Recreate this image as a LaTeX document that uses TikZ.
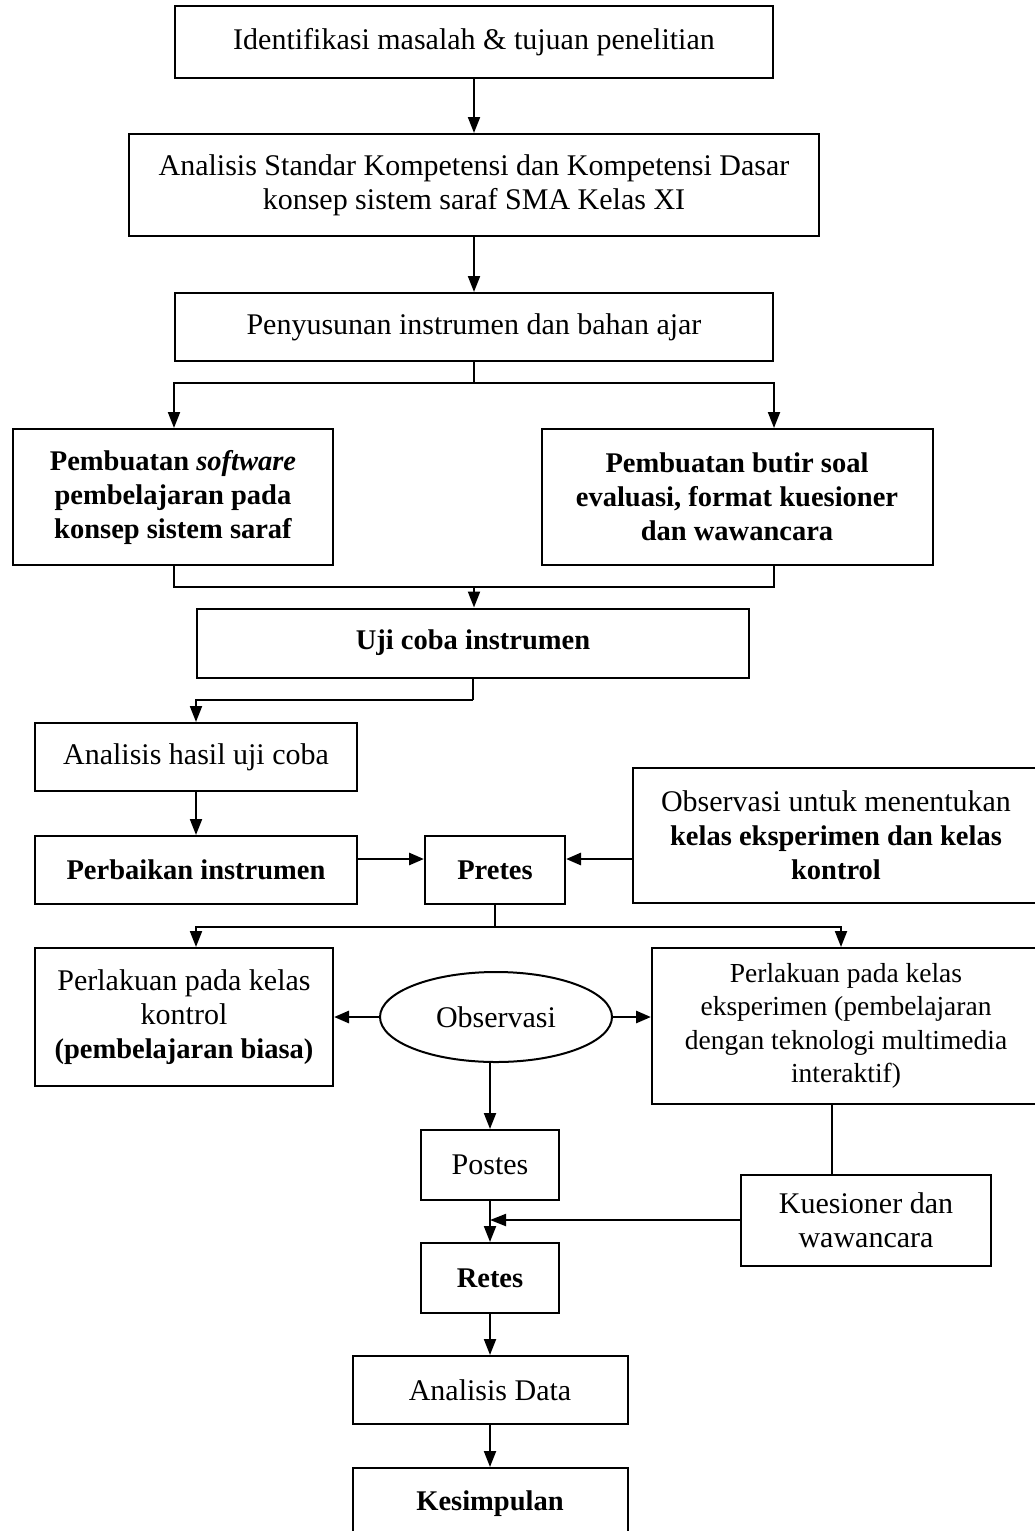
\documentclass[tikz,border=0pt]{standalone}
\usepackage{fontspec}
\setmainfont{Liberation Serif}
\usetikzlibrary{arrows.meta,shapes.geometric}
\newcommand\bfx{\fontsize{28.5}{34}\selectfont\bfseries}
\begin{document}
\begin{tikzpicture}[x=1pt,y=-1pt,
  box/.style={draw,line width=2pt,rectangle,inner sep=0pt,align=center,font=\fontsize{30}{34}\selectfont},
  bbox/.style={box,font=\bfx},
  arr/.style={line width=2pt,-{Triangle[length=16pt,width=12pt]}},
  tarr/.style={line width=2.8pt,-{Triangle[length=15pt,width=12pt]}},
  ln/.style={line width=2pt}]
\useasboundingbox (0,0) rectangle (1035,1531);

\node[box,minimum width=598pt,minimum height=72pt] (n1) at (474,42) {Identifikasi masalah \& tujuan penelitian};
\node[box,minimum width=690pt,minimum height=102pt] (n2) at (474,185) {Analisis Standar Kompetensi dan Kompetensi Dasar\\konsep sistem saraf SMA Kelas XI};
\node[box,minimum width=598pt,minimum height=68pt] (n3) at (474,327) {Penyusunan instrumen dan bahan ajar};
\node[bbox,minimum width=320pt,minimum height=136pt] (n4) at (173,497) {Pembuatan \textit{software}\\pembelajaran pada\\konsep sistem saraf};
\node[bbox,minimum width=391pt,minimum height=136pt] (n5) at (737,497) {Pembuatan butir soal\\evaluasi, format kuesioner\\dan wawancara};
\node[bbox,minimum width=552pt,minimum height=69pt] (n6) at (473,643) {Uji coba instrumen};
\node[box,minimum width=322pt,minimum height=68pt] (n7) at (196,757) {Analisis hasil uji coba};
\node[bbox,minimum width=322pt,minimum height=68pt] (n8) at (196,870) {Perbaikan instrumen};
\node[bbox,minimum width=140pt,minimum height=68pt] (n9) at (495,870) {Pretes};
\node[box,minimum width=407pt,minimum height=135pt] (n10) at (836,835) {Observasi untuk menentukan\\{\bfx kelas eksperimen dan kelas}\\{\bfx kontrol}};
\node[box,minimum width=298pt,minimum height=138pt] (n11) at (184,1017) {Perlakuan pada kelas\\kontrol\\{\bfx (pembelajaran biasa)}};
\node[draw,ellipse,line width=2pt,inner sep=0pt,minimum width=232pt,minimum height=90pt,font=\fontsize{30}{34}\selectfont] (ob) at (496,1017) {Observasi};
\node[box,minimum width=388pt,minimum height=156pt,font=\fontsize{27.5}{33.5}\selectfont] (n13) at (846,1026) {Perlakuan pada kelas\\eksperimen (pembelajaran\\dengan teknologi multimedia\\interaktif)};
\node[box,minimum width=138pt,minimum height=70pt] (n14) at (490,1165) {Postes};
\node[box,minimum width=250pt,minimum height=91pt] (n15) at (866,1220) {Kuesioner dan\\wawancara};
\node[bbox,minimum width=138pt,minimum height=70pt] (n16) at (490,1278) {Retes};
\node[box,minimum width=275pt,minimum height=68pt] (n17) at (490,1390) {Analisis Data};
\node[bbox,minimum width=275pt,minimum height=72pt] (n18) at (490,1504) {Kesimpulan};

\coordinate (j1) at (474,383);
\coordinate (j2) at (474,587);
\coordinate (j3) at (473,700);
\coordinate (j4) at (495,927);

\draw[arr] (n1) -- (n2);
\draw[arr] (n2) -- (n3);
\draw[ln] (n3.south) -- (j1);
\draw[arr] (j1) -| (n4.north -| n3.west);
\draw[arr] (j1) -| (n5.north -| n3.east);
\draw[ln] (n4.south -| n3.west) |- (j2);
\draw[ln] (n5.south -| n3.east) |- (j2);
\draw[arr] (j2) -- (n6.north -| j2);
\draw[ln] (n6.south -| j3) -- (j3);
\draw[arr] (j3) -| (n7.north);
\draw[arr] (n7) -- (n8);
\draw[tarr] ([yshift=11pt]n8.east) -- ([yshift=11pt]n9.west);
\draw[tarr] ([yshift=11pt]n9.east -| n10.west) -- ([yshift=11pt]n9.east);
\draw[ln] (n9.south) -- (j4);
\draw[arr] (j4) -| (n11.north -| n8.south);
\draw[arr] (j4) -| ([xshift=-5pt]n13.north);
\draw[tarr] (ob.west) -- (n11.east |- ob.west);
\draw[tarr] (ob.east) -- (n13.west |- ob.east);
\draw[arr] (n14.north |- ob.south) -- (n14.north);
\draw[ln] ([xshift=-14pt]n13.south) -- ([xshift=-14pt]n13.south |- n15.north);
\draw[arr] (n14) -- (n16);
\draw[arr] (n15.west) -- (n14.south |- n15.west);
\draw[arr] (n16) -- (n17);
\draw[arr] (n17) -- (n18);
\end{tikzpicture}
\end{document}
